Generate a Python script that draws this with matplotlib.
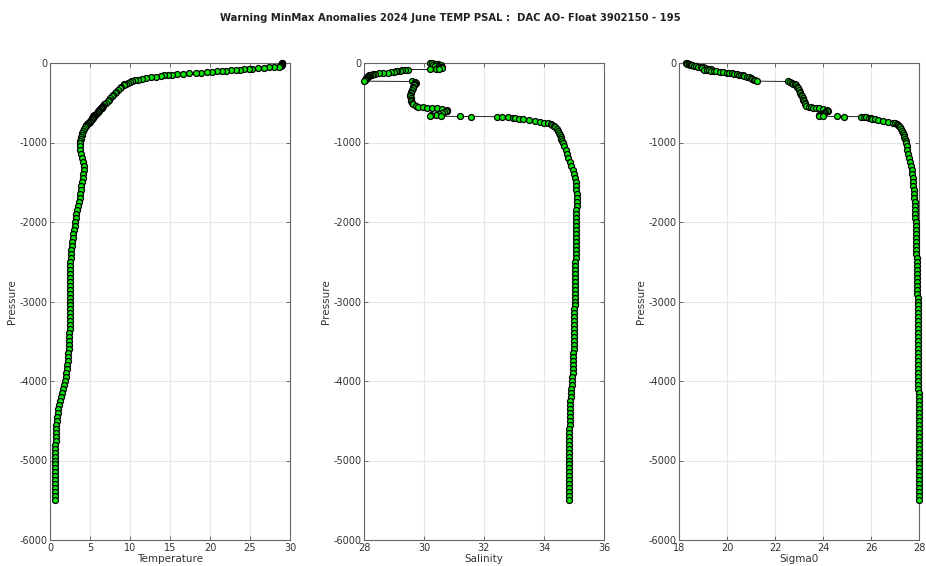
import matplotlib
matplotlib.use("Agg")
import matplotlib.pyplot as plt
import numpy as np

# ---------------- data ----------------
pres = [0, 4, 8, 12, 16, 20, 25, 30, 35, 40, 46, 50, 55, 60, 65, 70, 75, 80,
        84, 88, 92, 96, 100, 105, 110, 115, 120, 125, 130, 135, 140, 145, 150,
        155, 160, 170, 180, 190, 200, 210, 220, 228, 232, 238, 250, 260, 270,
        280, 300, 320, 340, 360, 380, 400, 420, 440, 460, 480, 500, 520, 540,
        550, 555, 560, 565, 570, 580, 590, 600, 610, 620, 630, 640, 650, 660,
        666, 670, 672, 674, 676, 680, 685, 690, 695, 700, 710, 720, 730, 740,
        750, 760, 770, 780, 790, 800, 825, 850, 875, 900, 925, 950, 975, 1000,
        1050, 1100, 1150, 1200, 1250, 1300, 1350, 1400, 1450, 1500, 1550, 1600,
        1650, 1700, 1750, 1800, 1850, 1900, 1950, 2000, 2050, 2100, 2150, 2200,
        2250, 2300, 2350, 2400, 2450, 2500, 2550, 2600, 2650, 2700, 2750, 2800,
        2850, 2900, 2950, 3000, 3050, 3100, 3150, 3200, 3250, 3300, 3350, 3400,
        3450, 3500, 3550, 3600, 3650, 3700, 3750, 3800, 3850, 3900, 3950, 4000,
        4050, 4100, 4150, 4200, 4250, 4300, 4350, 4400, 4450, 4500, 4550, 4600,
        4650, 4700, 4750, 4800, 4850, 4900, 4950, 5000, 5050, 5100, 5150, 5200,
        5250, 5300, 5350, 5400, 5450, 5500]

temp = [29.0, 29.0, 29.0, 29.0, 28.95, 28.95, 28.9, 28.9, 28.85, 28.8, 28.6,
        28.0, 27.4, 26.8, 26.0, 25.3, 24.9, 24.3, 23.8, 23.2, 22.6, 22.0, 21.5,
        20.9, 20.3, 19.6, 18.9, 18.2, 17.4, 16.6, 15.9, 15.3, 14.8, 14.3, 13.9,
        13.2, 12.6, 12.0, 11.5, 11.0, 10.6, 10.3, 10.2, 10.0, 9.7, 9.5, 9.3,
        9.2, 8.9, 8.7, 8.5, 8.3, 8.1, 7.9, 7.7, 7.5, 7.35, 7.2, 7.0, 6.8, 6.65,
        6.55, 6.5, 6.45, 6.4, 6.35, 6.25, 6.15, 6.1, 6.05, 5.95, 5.85, 5.75,
        5.65, 5.55, 5.5, 5.45, 5.43, 5.42, 5.4, 5.38, 5.35, 5.32, 5.3, 5.28,
        5.22, 5.15, 5.05, 4.95, 4.85, 4.75, 4.65, 4.55, 4.45, 4.38, 4.25, 4.15,
        4.05, 3.95, 3.88, 3.82, 3.76, 3.72, 3.7, 3.75, 3.88, 4.05, 4.15, 4.2,
        4.2, 4.15, 4.08, 4.0, 3.93, 3.85, 3.78, 3.7, 3.6, 3.5, 3.4, 3.3, 3.22,
        3.15, 3.07, 3.0, 2.92, 2.85, 2.78, 2.72, 2.67, 2.62, 2.58, 2.55, 2.52,
        2.5, 2.5, 2.5, 2.51, 2.52, 2.54, 2.55, 2.55, 2.55, 2.54, 2.53, 2.52,
        2.5, 2.49, 2.48, 2.45, 2.42, 2.4, 2.38, 2.35, 2.32, 2.28, 2.25, 2.2,
        2.15, 2.1, 2.05, 1.98, 1.9, 1.78, 1.65, 1.5, 1.35, 1.22, 1.1, 1.02,
        0.95, 0.9, 0.85, 0.81, 0.78, 0.75, 0.72, 0.7, 0.68, 0.66, 0.65, 0.63,
        0.62, 0.61, 0.6, 0.6, 0.6, 0.6, 0.6, 0.6, 0.6, 0.61, 0.62]

psal = [30.20, 30.25, 30.35, 30.45, 30.40, 30.30, 30.50, 30.55, 30.45, 30.35,
        30.60, 30.55, 30.45, 30.50, 30.60, 30.40, 30.50, 30.20, 29.48, 29.35,
        29.25, 29.20, 29.10, 29.05, 29.00, 28.90, 28.80, 28.65, 28.50, 28.35,
        28.30, 28.25, 28.20, 28.17, 28.15, 28.12, 28.10, 28.08, 28.06, 28.04,
        28.02, 28.00, 29.60, 29.70, 29.72, 29.70, 29.68, 29.66, 29.64, 29.62,
        29.60, 29.57, 29.55, 29.54, 29.54, 29.55, 29.56, 29.58, 29.60, 29.65,
        29.72, 29.80, 29.95, 30.10, 30.25, 30.43, 30.60, 30.75, 30.78, 30.72,
        30.68, 30.60, 30.50, 30.40, 30.22, 30.20, 30.58, 31.20, 31.55, 32.44,
        32.60, 32.80, 32.95, 33.05, 33.15, 33.30, 33.50, 33.70, 33.85, 34.00,
        34.12, 34.22, 34.28, 34.32, 34.36, 34.42, 34.47, 34.51, 34.54, 34.56,
        34.58, 34.60, 34.62, 34.67, 34.72, 34.76, 34.80, 34.85, 34.90, 34.96,
        35.00, 35.03, 35.05, 35.07, 35.08, 35.09, 35.09, 35.09, 35.09, 35.08,
        35.08, 35.08, 35.07, 35.07, 35.07, 35.06, 35.06, 35.06, 35.05, 35.05,
        35.05, 35.05, 35.04, 35.04, 35.04, 35.04, 35.03, 35.03, 35.03, 35.03,
        35.02, 35.02, 35.02, 35.02, 35.01, 35.01, 35.01, 35.00, 35.00, 35.00,
        35.00, 34.99, 34.99, 34.99, 34.99, 34.98, 34.98, 34.98, 34.97, 34.96,
        34.95, 34.94, 34.93, 34.92, 34.91, 34.90, 34.89, 34.88, 34.87, 34.87,
        34.86, 34.86, 34.85, 34.85, 34.84, 34.84, 34.84, 34.83, 34.83, 34.83,
        34.83, 34.82, 34.82, 34.82, 34.82, 34.82, 34.82, 34.82, 34.82, 34.82,
        34.82, 34.82, 34.82]

sig0 = [18.30, 18.32, 18.35, 18.40, 18.42, 18.45, 18.50, 18.55, 18.62, 18.70,
        18.80, 18.90, 19.00, 19.10, 18.95, 19.20, 19.25, 19.35, 19.05, 19.15,
        19.25, 19.35, 19.45, 19.55, 19.70, 19.85, 20.00, 20.10, 20.20, 20.30,
        20.40, 20.50, 20.58, 20.66, 20.72, 20.82, 20.90, 20.98, 21.05, 21.12,
        21.18, 21.25, 22.55, 22.62, 22.70, 22.76, 22.82, 22.86, 22.92, 22.97,
        23.00, 23.03, 23.06, 23.09, 23.12, 23.15, 23.18, 23.21, 23.24, 23.27,
        23.30, 23.40, 23.50, 23.60, 23.72, 23.85, 24.00, 24.15, 24.20, 24.15,
        24.10, 24.05, 24.00, 23.95, 23.85, 23.83, 24.00, 24.60, 24.87, 25.57,
        25.70, 25.80, 25.90, 25.98, 26.05, 26.15, 26.30, 26.50, 26.70, 26.90,
        27.00, 27.08, 27.12, 27.16, 27.19, 27.25, 27.30, 27.33, 27.36, 27.39,
        27.42, 27.44, 27.46, 27.49, 27.52, 27.56, 27.59, 27.63, 27.66, 27.69,
        27.71, 27.73, 27.75, 27.77, 27.79, 27.80, 27.81, 27.82, 27.83, 27.84,
        27.85, 27.85, 27.86, 27.86, 27.87, 27.87, 27.88, 27.88, 27.88, 27.89,
        27.89, 27.90, 27.90, 27.91, 27.91, 27.92, 27.92, 27.92, 27.93, 27.93,
        27.93, 27.94, 27.94, 27.94, 27.95, 27.95, 27.95, 27.95, 27.96, 27.96,
        27.96, 27.96, 27.96, 27.96, 27.97, 27.97, 27.97, 27.97, 27.97, 27.97,
        27.97, 27.97, 27.97, 27.97, 27.97, 27.98, 27.98, 27.98, 27.98, 27.98,
        27.98, 27.98, 27.98, 27.98, 27.98, 27.98, 27.98, 27.98, 27.98, 27.98,
        27.98, 27.98, 27.98, 27.98, 27.98, 27.98, 27.98, 27.98, 27.98, 27.98,
        27.98, 27.98, 27.98]

title_text = "Warning MinMax Anomalies 2024 June TEMP PSAL :  DAC AO- Float 3902150 - 195"
panels = [
    ("Temperature", temp, (0, 30), [0, 5, 10, 15, 20, 25, 30]),
    ("Salinity", psal, (28, 36), [28, 30, 32, 34, 36]),
    ("Sigma0", sig0, (18, 28), [18, 20, 22, 24, 26, 28]),
]
yticks = [0, -1000, -2000, -3000, -4000, -5000, -6000]

# ---------------- figure ----------------
plt.rcParams["font.family"] = "DejaVu Sans"
plt.rcParams["axes.unicode_minus"] = False

W, H = 926, 566
fig = plt.figure(figsize=(W / 100, H / 100), dpi=100)

lefts = [50, 364, 679]
aw = 240
top_px, bot_px = 63, 540
neg_pres = -np.asarray(pres, dtype=float)

for left, (xlabel, vals, xlim, xt) in zip(lefts, panels):
    n = min(len(vals), len(neg_pres))
    v = np.asarray(vals[:n], dtype=float)
    p = neg_pres[:n]
    ax = fig.add_axes([left / W, 1 - bot_px / H, aw / W, (bot_px - top_px) / H])
    ax.plot(v, p, "-", color="black", lw=0.6, zorder=2)
    ax.plot(v, p, "o", ms=4.3, mfc="#0ee60e", mec="black",
            mew=0.9, zorder=3, clip_on=False)
    ax.set_xlim(*xlim)
    ax.set_ylim(-6000, 0)
    ax.set_xticks(xt)
    ax.set_yticks(yticks)
    ax.grid(True, color="#e6e6e6", lw=0.8)
    ax.set_axisbelow(True)
    ax.tick_params(direction="in", length=3, width=0.6, colors="#555555",
                   labelcolor="#333333", labelsize=7, top=True, right=True, pad=2)
    for s in ax.spines.values():
        s.set_color("#666666")
        s.set_linewidth(0.8)
    ax.set_xlabel(xlabel, fontsize=7.5, color="#333333", labelpad=1)
    ax.set_ylabel("Pressure", fontsize=7.5, color="#333333", labelpad=1.5)

fig.text(450 / W, 1 - 18 / H, title_text, ha="center", va="center",
         fontsize=7.2, fontweight="bold", color="#222222")

fig.savefig("out.png", dpi=100)
